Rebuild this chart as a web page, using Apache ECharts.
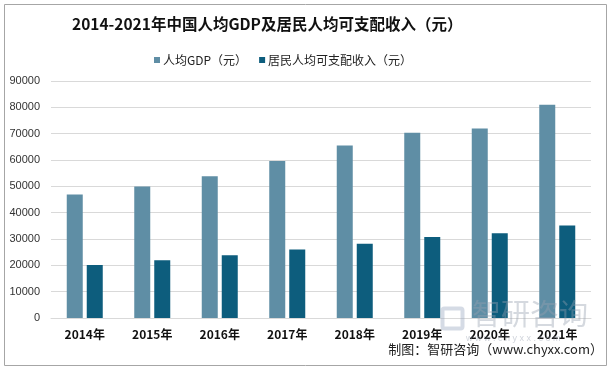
<!DOCTYPE html>
<html><head><meta charset="utf-8">
<script src="https://cdn.jsdelivr.net/npm/echarts@6/dist/echarts.min.js"></script>
<style>html,body{margin:0;padding:0;background:#fff}#c{width:609px;height:367px}</style>
</head><body><div id="c"></div>
<script>
const categories = ['2014年','2015年','2016年','2017年','2018年','2019年','2020年','2021年'];
const gdpPerCapita = [46912, 49922, 53783, 59592, 65534, 70328, 72000, 80976];
const disposableIncome = [20167, 21966, 23821, 25974, 28228, 30733, 32189, 35128];
const seriesNames = ['人均GDP（元）','居民人均可支配收入（元）'];

const chart = echarts.init(document.getElementById('c'), null, {renderer:'canvas'});
chart.setOption({
  animation:false,
  backgroundColor:'#fff',
  title:{text:'2014-2021年中国人均GDP及居民人均可支配收入（元）', left:67, top:11,
    textStyle:{fontSize:15.5, fontWeight:'bold', color:'#111', fontFamily:'Noto Sans CJK SC'}},
  legend:{top:49, left:149, itemWidth:6, itemHeight:6, itemGap:12,
    textStyle:{fontSize:12, color:'#222', fontFamily:'Noto Sans CJK SC', padding:[0,0,0,-2]},
    data:seriesNames.map(n=>({name:n, icon:'rect'}))},
  grid:{left:51, right:18, top:81, bottom:49},
  xAxis:{type:'category', data:categories,
    axisLine:{lineStyle:{color:'#d9d9d9'}}, axisTick:{show:false},
    axisLabel:{fontSize:12, fontWeight:'bold', color:'#111', margin:10, fontFamily:'Noto Sans CJK SC'}},
  yAxis:{type:'value', min:0, max:90000, interval:10000,
    axisLine:{show:false}, axisTick:{show:false},
    splitLine:{lineStyle:{color:'#d9d9d9'}},
    axisLabel:{fontSize:11, color:'#333', margin:11, fontFamily:'Liberation Sans', formatter:v=>String(v)}},
  series:[
    {name:seriesNames[0], type:'bar', data:gdpPerCapita, barWidth:16, barGap:'25%',
      itemStyle:{color:'#5f8ea5'}},
    {name:seriesNames[1], type:'bar', data:disposableIncome, barWidth:16,
      itemStyle:{color:'#0d5d7d'}}
  ],
  graphic:[
    {type:'rect', left:2, top:2, shape:{width:602, height:361}, style:{fill:'none', stroke:'#a6a6a6', lineWidth:1}, silent:true},
    {type:'text', left:472, top:299, z:100, style:{text:'智研咨询', fontSize:29, fill:'rgba(150,160,175,0.4)', fontFamily:'Noto Sans CJK SC'}},
    {type:'rect', left:440, top:306, z:100, shape:{width:20, height:20, r:2}, style:{fill:'none', stroke:'rgba(150,165,190,0.4)', lineWidth:4}},
    {type:'text', left:466, top:334, z:100, style:{text:'w w w . c h y x x . c o m', fontSize:9, fill:'rgba(150,160,175,0.45)', fontFamily:'Liberation Sans'}},
    {type:'text', right:6, top:343, z:101, style:{text:'制图：智研咨询（www.chyxx.com）', fontSize:13, fill:'#222', fontFamily:'Noto Sans CJK SC'}}
  ]
});
</script></body></html>
